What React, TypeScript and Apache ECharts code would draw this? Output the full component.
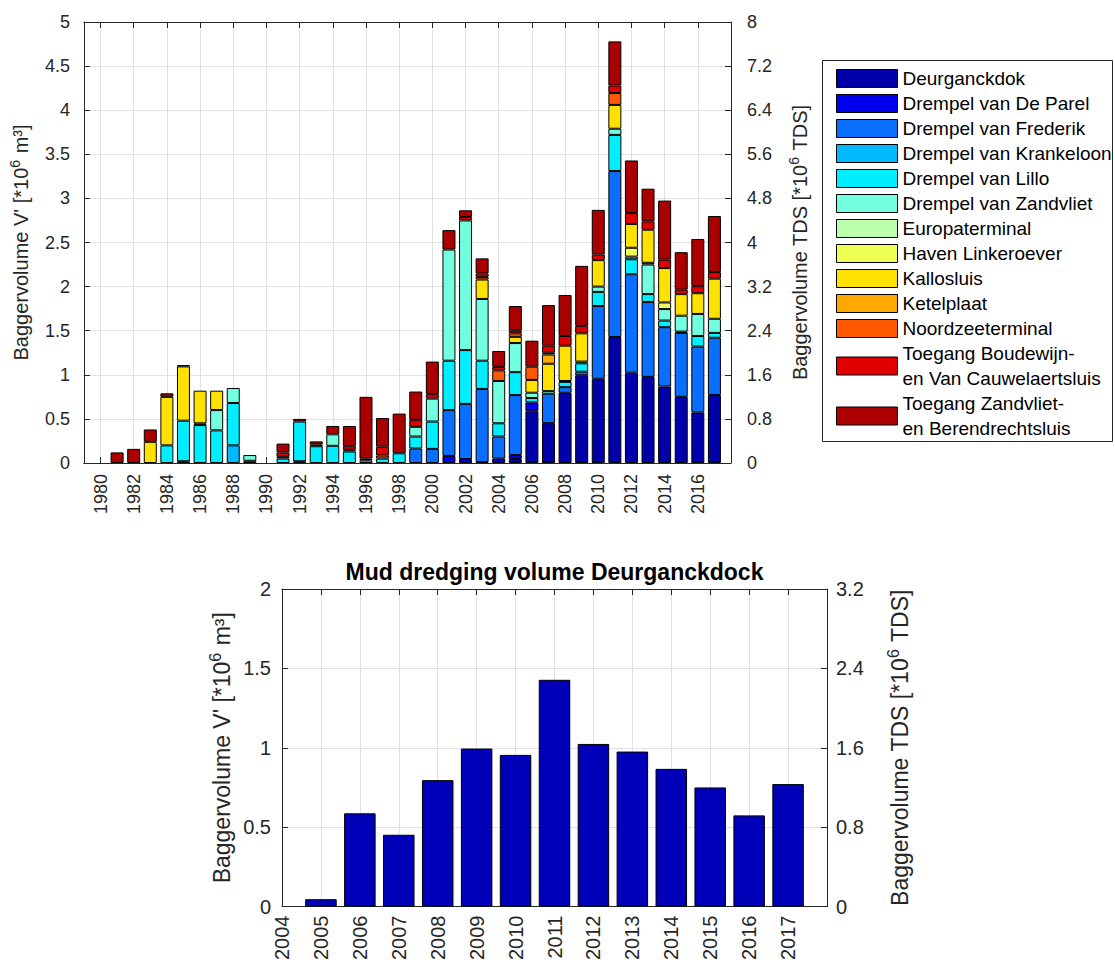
import React, { useEffect, useRef } from "react";
import * as echarts from "echarts";

// Category positions of the upper axis (bars sit on 1981–2017, labels on even years)
const topAxisYears = [
  "1979", "1980", "1981", "1982", "1983", "1984", "1985", "1986", "1987", "1988",
  "1989", "1990", "1991", "1992", "1993", "1994", "1995", "1996", "1997", "1998",
  "1999", "2000", "2001", "2002", "2003", "2004", "2005", "2006", "2007", "2008",
  "2009", "2010", "2011", "2012", "2013", "2014", "2015", "2016", "2017", "2018",
];

// Years that carry dredging data
const dredgeYears = [
  1981, 1982, 1983, 1984, 1985, 1986, 1987, 1988, 1989, 1990,
  1991, 1992, 1993, 1994, 1995, 1996, 1997, 1998, 1999, 2000,
  2001, 2002, 2003, 2004, 2005, 2006, 2007, 2008, 2009, 2010,
  2011, 2012, 2013, 2014, 2015, 2016, 2017,
];

// Volumes per location [*10^6 m³], one value per entry of dredgeYears
const deurganckdok = [
  0, 0, 0, 0, 0, 0, 0, 0, 0, 0,
  0, 0, 0, 0, 0, 0, 0, 0, 0, 0,
  0, 0, 0, 0, 0.046, 0.587, 0.452, 0.796, 0.995, 0.955,
  1.428, 1.024, 0.976, 0.867, 0.75, 0.574, 0.771,
];
const drempelDeParel = [
  0, 0, 0, 0, 0.02, 0, 0, 0, 0, 0,
  0, 0.02, 0, 0, 0, 0, 0, 0, 0, 0,
  0.08, 0.045, 0.01, 0.05, 0.044, 0.1, 0, 0, 0, 0,
  0, 0, 0, 0, 0, 0, 0,
];
const drempelFrederik = [
  0, 0, 0, 0, 0, 0, 0, 0, 0, 0,
  0, 0, 0, 0, 0, 0, 0, 0, 0.165, 0.16,
  0.52, 0.625, 0.83, 0.25, 0.68, 0, 0.333, 0.064, 0.04, 0.825,
  1.882, 1.116, 0.849, 0.673, 0.725, 0.746, 0.649,
];
const drempelKrankeloon = [
  0, 0, 0, 0, 0, 0, 0, 0.2, 0, 0,
  0, 0, 0, 0, 0, 0, 0, 0, 0, 0,
  0, 0, 0, 0, 0, 0, 0, 0, 0, 0,
  0, 0, 0, 0, 0, 0, 0,
];
const drempelLillo = [
  0, 0, 0, 0.2, 0.46, 0.43, 0.37, 0.48, 0.025, 0,
  0.05, 0.45, 0.19, 0.195, 0.13, 0.03, 0.05, 0.11, 0.135, 0.31,
  0.56, 0.61, 0.32, 0.15, 0.26, 0.05, 0, 0.06, 0.095, 0.16,
  0.41, 0.17, 0.09, 0.075, 0.015, 0.12, 0.055,
];
const drempelZandvliet = [
  0, 0, 0, 0, 0, 0.02, 0.23, 0.17, 0.065, 0,
  0.02, 0, 0, 0.13, 0.02, 0, 0, 0, 0.11, 0.26,
  1.26, 1.47, 0.7, 0.48, 0.33, 0.06, 0.03, 0.01, 0.02, 0.06,
  0.07, 0.03, 0.335, 0.13, 0.18, 0.25, 0.16,
];
const europaterminal = [
  0, 0, 0, 0, 0, 0, 0, 0, 0, 0,
  0, 0, 0, 0, 0, 0, 0, 0, 0, 0,
  0, 0, 0, 0, 0, 0, 0, 0, 0, 0,
  0, 0, 0, 0, 0, 0, 0,
];
const havenLinkeroever = [
  0, 0, 0, 0, 0, 0, 0, 0, 0, 0,
  0, 0, 0, 0, 0, 0, 0, 0, 0, 0,
  0, 0, 0, 0, 0, 0, 0, 0, 0, 0,
  0, 0.1, 0.02, 0.075, 0, 0, 0,
];
const kallosluis = [
  0, 0, 0.24, 0.55, 0.615, 0.37, 0.22, 0, 0, 0,
  0, 0, 0, 0, 0, 0, 0, 0, 0, 0,
  0, 0, 0.22, 0, 0.07, 0.145, 0.31, 0.4, 0.32, 0.3,
  0.27, 0.27, 0.375, 0.39, 0.245, 0.235, 0.455,
];
const ketelplaat = [
  0, 0, 0, 0, 0, 0, 0, 0, 0, 0,
  0, 0, 0, 0, 0, 0, 0, 0, 0, 0,
  0, 0, 0, 0, 0, 0, 0.105, 0, 0, 0,
  0, 0, 0, 0, 0, 0, 0,
];
const noordzeeterminal = [
  0, 0, 0, 0, 0, 0, 0, 0, 0, 0,
  0, 0, 0, 0, 0, 0, 0.035, 0, 0, 0,
  0, 0, 0.03, 0.12, 0.04, 0.15, 0.02, 0, 0, 0,
  0.135, 0, 0, 0, 0, 0, 0,
];
const toegangBoudewijn = [
  0, 0, 0, 0, 0, 0, 0, 0, 0, 0,
  0.05, 0, 0.02, 0, 0.04, 0.02, 0.1, 0, 0.08, 0.05,
  0, 0.04, 0.04, 0.04, 0.03, 0, 0.08, 0.11, 0.085, 0.065,
  0.085, 0.125, 0.095, 0.095, 0.05, 0.08, 0.075,
];
const toegangZandvliet = [
  0.12, 0.16, 0.14, 0.04, 0.015, 0, 0, 0, 0, 0,
  0.1, 0.03, 0.035, 0.095, 0.23, 0.7, 0.325, 0.45, 0.32, 0.37,
  0.22, 0.075, 0.17, 0.18, 0.28, 0.295, 0.46, 0.465, 0.68, 0.505,
  0.5, 0.595, 0.37, 0.67, 0.425, 0.535, 0.635,
];

const locationNames = [
  "Deurganckdok",
  "Drempel van De Parel",
  "Drempel van Frederik",
  "Drempel van Krankeloon",
  "Drempel van Lillo",
  "Drempel van Zandvliet",
  "Europaterminal",
  "Haven Linkeroever",
  "Kallosluis",
  "Ketelplaat",
  "Noordzeeterminal",
  "Toegang Boudewijn-\nen Van Cauwelaertsluis",
  "Toegang Zandvliet-\nen Berendrechtsluis",
];
const locationValues = [
  deurganckdok, drempelDeParel, drempelFrederik, drempelKrankeloon, drempelLillo,
  drempelZandvliet, europaterminal, havenLinkeroever, kallosluis, ketelplaat,
  noordzeeterminal, toegangBoudewijn, toegangZandvliet,
];
const locationColors = [
  "#0000aa", "#0000ee", "#0a6eff", "#00b9ff", "#00eeff", "#72ffe0", "#bbffaa",
  "#eeff55", "#ffe100", "#ffa800", "#ff5800", "#e00000", "#ab0000",
];

// Lower chart: Deurganckdok years
const dockYears = [2005, 2006, 2007, 2008, 2009, 2010, 2011, 2012, 2013, 2014, 2015, 2016, 2017];

const FONT = "'Liberation Sans', Arial, Helvetica, sans-serif";
const INK = "#262626";
const GRID = "#e2e2e2";

const evenYear = (_i: number, v: string) => {
  const y = Number(v);
  return y % 2 === 0 && y <= 2016;
};

const supStyle = (size: number) => ({
  sup: { fontSize: size, verticalAlign: "top", color: INK, fontFamily: FONT, padding: [0, 1, 0, 0] },
});

function buildOption() {
  const stackSeries = locationNames.map((name, k) => {
    const byYear: Record<number, number> = {};
    dredgeYears.forEach((y, i) => (byYear[y] = locationValues[k][i]));
    const data = topAxisYears.map((label) => {
      const v = byYear[Number(label)];
      return v && v > 0 ? v : "-";
    });
    return {
      name,
      type: "bar",
      stack: "volume",
      xAxisIndex: 0,
      yAxisIndex: 0,
      barWidth: 13,
      data,
      itemStyle: { color: locationColors[k], borderColor: "#000", borderWidth: 1 },
    };
  });

  const dockData = dockYears.map((y) => [y, deurganckdok[dredgeYears.indexOf(y)]]);

  const tickLabel = (size: number, margin: number) => ({
    color: INK,
    fontSize: size,
    fontFamily: FONT,
    margin,
  });

  return {
    animation: false,
    backgroundColor: "#ffffff",
    textStyle: { fontFamily: FONT },
    grid: [
      { left: 83, top: 22, width: 648, height: 441 },
      { left: 282, top: 589, width: 545, height: 319 },
    ],
    xAxis: [
      {
        gridIndex: 0,
        type: "category",
        data: topAxisYears,
        boundaryGap: false,
        axisLine: { onZero: false, lineStyle: { color: INK } },
        axisTick: { inside: true, length: 6, interval: evenYear, lineStyle: { color: INK } },
        axisLabel: { ...tickLabel(18, 11), rotate: 90, interval: evenYear },
        splitLine: { show: true, interval: evenYear, lineStyle: { color: GRID } },
      },
      {
        gridIndex: 0,
        type: "category",
        data: topAxisYears,
        boundaryGap: false,
        position: "top",
        axisLine: { onZero: false, lineStyle: { color: INK } },
        axisTick: { inside: true, length: 6, interval: evenYear, lineStyle: { color: INK } },
        axisLabel: { show: false },
        splitLine: { show: false },
      },
      {
        gridIndex: 1,
        type: "value",
        min: 2004,
        max: 2018,
        interval: 1,
        axisLine: { onZero: false, lineStyle: { color: INK } },
        axisTick: { inside: true, length: 6, lineStyle: { color: INK } },
        axisLabel: {
          ...tickLabel(20, 9),
          rotate: 90,
          formatter: (v: number) => (v >= 2018 ? "" : String(v)),
        },
        splitLine: { show: true, lineStyle: { color: GRID } },
      },
      {
        gridIndex: 1,
        type: "value",
        min: 2004,
        max: 2018,
        interval: 1,
        position: "top",
        axisLine: { onZero: false, lineStyle: { color: INK } },
        axisTick: { inside: true, length: 6, lineStyle: { color: INK } },
        axisLabel: { show: false },
        splitLine: { show: false },
      },
    ],
    yAxis: [
      {
        gridIndex: 0,
        type: "value",
        min: 0,
        max: 5,
        interval: 0.5,
        position: "left",
        name: "Baggervolume V' [*10{sup|6} m³]",
        nameLocation: "middle",
        nameGap: 46,
        nameTextStyle: { color: INK, fontSize: 20, lineHeight: 26, fontFamily: FONT, rich: supStyle(14) },
        axisLine: { show: true, onZero: false, lineStyle: { color: INK } },
        axisTick: { show: true, inside: true, length: 6, lineStyle: { color: INK } },
        axisLabel: tickLabel(18, 14),
        splitLine: { show: true, lineStyle: { color: GRID } },
      },
      {
        gridIndex: 0,
        type: "value",
        min: 0,
        max: 8,
        interval: 0.8,
        position: "right",
        name: "Baggervolume TDS [*10{sup|6} TDS]",
        nameLocation: "middle",
        nameGap: 56,
        nameTextStyle: { color: INK, fontSize: 20, lineHeight: 26, fontFamily: FONT, rich: supStyle(14) },
        axisLine: { show: true, onZero: false, lineStyle: { color: INK } },
        axisTick: { show: true, inside: true, length: 6, lineStyle: { color: INK } },
        axisLabel: tickLabel(18, 16),
        splitLine: { show: false },
      },
      {
        gridIndex: 1,
        type: "value",
        min: 0,
        max: 2,
        interval: 0.5,
        position: "left",
        name: "Baggervolume V' [*10{sup|6} m³]",
        nameLocation: "middle",
        nameGap: 45,
        nameTextStyle: { color: INK, fontSize: 23, lineHeight: 30, fontFamily: FONT, rich: supStyle(16) },
        axisLine: { show: true, onZero: false, lineStyle: { color: INK } },
        axisTick: { show: true, inside: true, length: 6, lineStyle: { color: INK } },
        axisLabel: tickLabel(20, 11),
        splitLine: { show: true, lineStyle: { color: GRID } },
      },
      {
        gridIndex: 1,
        type: "value",
        min: 0,
        max: 3.2,
        interval: 0.8,
        position: "right",
        name: "Baggervolume TDS [*10{sup|6} TDS]",
        nameLocation: "middle",
        nameGap: 58,
        nameTextStyle: { color: INK, fontSize: 23, lineHeight: 30, fontFamily: FONT, rich: supStyle(16) },
        axisLine: { show: true, onZero: false, lineStyle: { color: INK } },
        axisTick: { show: true, inside: true, length: 6, lineStyle: { color: INK } },
        axisLabel: tickLabel(20, 9),
        splitLine: { show: false },
      },
    ],
    legend: {
      data: locationNames,
      orient: "vertical",
      left: 836,
      top: 66,
      padding: 0,
      itemGap: 0,
      itemWidth: 61,
      itemHeight: 18,
      icon: "rect",
      selectedMode: false,
      itemStyle: { borderColor: "#000", borderWidth: 1 },
      textStyle: { color: "#000", fontSize: 19, lineHeight: 25, fontFamily: FONT },
    },
    graphic: [
      {
        type: "rect",
        shape: { x: 822.5, y: 60.5, width: 290, height: 381 },
        style: { fill: "none", stroke: INK, lineWidth: 1 },
      },
      {
        type: "text",
        x: 554.5,
        y: 572,
        style: {
          text: "Mud dredging volume Deurganckdock",
          align: "center",
          verticalAlign: "middle",
          fontSize: 23,
          fontWeight: "bold",
          fontFamily: FONT,
          fill: "#000",
        },
      },
    ],
    series: [
      ...stackSeries,
      {
        name: "Deurganckdock",
        type: "bar",
        xAxisIndex: 2,
        yAxisIndex: 2,
        barWidth: 31.5,
        data: dockData,
        itemStyle: { color: "#0000b8", borderColor: "#000", borderWidth: 1 },
      },
    ],
  };
}

export default function App() {
  const ref = useRef<HTMLDivElement>(null);
  useEffect(() => {
    if (!ref.current) return;
    const chart = echarts.init(ref.current, undefined, { renderer: "svg" });
    chart.setOption(buildOption() as any);
    return () => chart.dispose();
  }, []);
  return (
    <div
      ref={ref}
      style={{ position: "fixed", left: 0, top: 0, width: 1115, height: 963, background: "#fff" }}
    />
  );
}
